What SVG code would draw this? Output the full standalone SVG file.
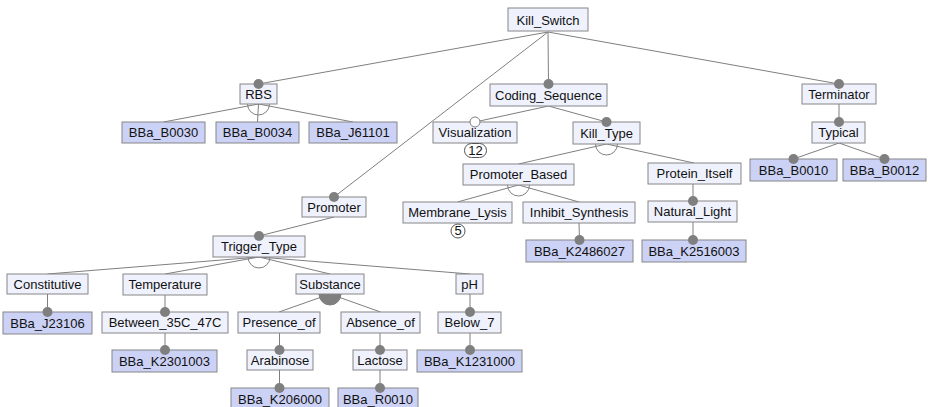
<svg xmlns="http://www.w3.org/2000/svg" width="928" height="407" viewBox="0 0 928 407">
<style>
.f{fill:#eff1fd;stroke:#868686;stroke-width:1}
.c{fill:#ccd1f6;stroke:#868686;stroke-width:1}
text{font-family:"Liberation Sans",Arial,sans-serif;font-size:13px;fill:#111;text-anchor:middle}
.l{stroke:#7f7f7f;stroke-width:1;fill:none}
.d{fill:#7f7f7f}
.o{fill:#fff;stroke:#7f7f7f;stroke-width:1}
.a{fill:none;stroke:#7f7f7f;stroke-width:1}
.r{fill:#7f7f7f;stroke:#7f7f7f;stroke-width:1}
.b{fill:#fff;stroke:#555;stroke-width:1}
</style>
<rect width="928" height="407" fill="#fff"/>
<g id="connectors">
<path class="l" d="M548 32L258.5 84M548 32L334 197M548 32L548.5 84M548 32L839 84"/>
<path class="l" d="M258.5 104L163.5 122M258.5 104L257.5 122M258.5 104L353 122"/>
<path class="a" d="M247.5 104A11 11 0 0 0 269.5 104"/>
<path class="l" d="M548.5 106L475 122M548.5 106L606.5 122"/>
<path class="l" d="M606.5 144L518.5 164M606.5 144L694 163"/>
<path class="a" d="M595.5 144A11 11 0 0 0 617.5 144"/>
<path class="l" d="M518.5 185L457.5 202M518.5 185L579 202"/>
<path class="a" d="M507.5 185A11 11 0 0 0 529.5 185"/>
<path class="l" d="M579 223L579.5 240M693 184L693 201M693 222L693 240M839 104L839 122M839 143L793.5 159M839 143L884.5 159"/>
<path class="l" d="M334 217L259 236"/>
<path class="l" d="M259 257L47.5 274M259 257L165 274M259 257L330 274M259 257L470 274"/>
<path class="a" d="M248 257A11 11 0 0 0 270 257"/>
<path class="l" d="M47.5 294L47.5 312M165 295L165 312M165 333L165 350"/>
<path class="l" d="M330 294L279 312M330 294L380.5 312"/>
<path class="r" d="M319 294A11 11 0 0 0 341 294Z"/>
<path class="l" d="M279.5 333L279.5 350M279.5 370L279.5 388M380 333L380 350M380 370L380 388M470 294L470 312M470 333L470 350"/>
</g>
<g id="Kill_Switch"><rect class="f" x="508" y="8" width="80" height="23"/><text x="548" y="24.5">Kill_Switch</text></g>
<g id="RBS"><rect class="f" x="240" y="84" width="37" height="20"/><text x="258.5" y="98.5">RBS</text><circle class="d" cx="258.5" cy="84" r="5"/></g>
<g id="BBa_B0030"><rect class="c" x="122" y="122" width="83" height="21"/><text x="163.5" y="137">BBa_B0030</text></g>
<g id="BBa_B0034"><rect class="c" x="216" y="122" width="83" height="21"/><text x="257.5" y="137">BBa_B0034</text></g>
<g id="BBa_J61101"><rect class="c" x="309" y="122" width="88" height="21"/><text x="353" y="137">BBa_J61101</text></g>
<g id="Coding_Sequence"><rect class="f" x="490" y="84" width="117" height="22"/><text x="548.5" y="99.5">Coding_Sequence</text><circle class="d" cx="548.5" cy="84" r="5"/></g>
<g id="Visualization"><rect class="f" x="433" y="122" width="84" height="21"/><text x="475" y="137">Visualization</text><circle class="o" cx="475" cy="122" r="5"/><rect class="b" x="464.5" y="143.5" width="22" height="14" rx="7"/><text x="475.5" y="155" font-size="11">12</text></g>
<g id="Kill_Type"><rect class="f" x="573" y="122" width="67" height="22"/><text x="606.5" y="137.5">Kill_Type</text><circle class="d" cx="606.5" cy="122" r="5"/></g>
<g id="Promoter_Based"><rect class="f" x="463" y="164" width="111" height="21"/><text x="518.5" y="179">Promoter_Based</text></g>
<g id="Protein_Itself"><rect class="f" x="648" y="163" width="93" height="21"/><text x="694.5" y="178">Protein_Itself</text></g>
<g id="Membrane_Lysis"><rect class="f" x="403" y="202" width="109" height="21"/><text x="457.5" y="217">Membrane_Lysis</text><circle class="b" cx="458" cy="231" r="7"/><text x="458" y="235" font-size="11">5</text></g>
<g id="Inhibit_Synthesis"><rect class="f" x="523" y="202" width="112" height="21"/><text x="579" y="217">Inhibit_Synthesis</text></g>
<g id="BBa_K2486027"><rect class="c" x="526" y="240" width="107" height="22"/><text x="579.5" y="255.5">BBa_K2486027</text><circle class="d" cx="579.5" cy="240" r="5"/></g>
<g id="Natural_Light"><rect class="f" x="648" y="201" width="89" height="21"/><text x="692.5" y="216">Natural_Light</text><circle class="d" cx="693" cy="201" r="5"/></g>
<g id="BBa_K2516003"><rect class="c" x="642" y="240" width="104" height="22"/><text x="694" y="255.5">BBa_K2516003</text><circle class="d" cx="693" cy="240" r="5"/></g>
<g id="Terminator"><rect class="f" x="802" y="84" width="74" height="20"/><text x="839" y="98.5">Terminator</text><circle class="d" cx="839" cy="84" r="5"/></g>
<g id="Typical"><rect class="f" x="812" y="122" width="53" height="21"/><text x="838.5" y="137">Typical</text><circle class="d" cx="839" cy="122" r="5"/></g>
<g id="BBa_B0010"><rect class="c" x="750" y="159" width="87" height="22"/><text x="793.5" y="174.5">BBa_B0010</text><circle class="d" cx="793.5" cy="159" r="5"/></g>
<g id="BBa_B0012"><rect class="c" x="843" y="159" width="83" height="22"/><text x="884.5" y="174.5">BBa_B0012</text><circle class="d" cx="884.5" cy="159" r="5"/></g>
<g id="Promoter"><rect class="f" x="302" y="197" width="64" height="20"/><text x="334" y="211.5">Promoter</text><circle class="d" cx="334" cy="197" r="5"/></g>
<g id="Trigger_Type"><rect class="f" x="213" y="236" width="92" height="21"/><text x="259" y="251">Trigger_Type</text><circle class="d" cx="259" cy="236" r="5"/></g>
<g id="Constitutive"><rect class="f" x="7" y="274" width="81" height="20"/><text x="47.5" y="288.5">Constitutive</text></g>
<g id="Temperature"><rect class="f" x="123" y="274" width="84" height="21"/><text x="165" y="289">Temperature</text></g>
<g id="Substance"><rect class="f" x="296" y="274" width="68" height="20"/><text x="330" y="288.5">Substance</text></g>
<g id="pH"><rect class="f" x="456" y="274" width="27" height="20"/><text x="469.5" y="288.5">pH</text></g>
<g id="BBa_J23106"><rect class="c" x="3" y="312" width="89" height="22"/><text x="47.5" y="327.5">BBa_J23106</text><circle class="d" cx="47.5" cy="312" r="5"/></g>
<g id="Between_35C_47C"><rect class="f" x="102" y="312" width="126" height="21"/><text x="165" y="327">Between_35C_47C</text><circle class="d" cx="165" cy="312" r="5"/></g>
<g id="BBa_K2301003"><rect class="c" x="112" y="350" width="105" height="22"/><text x="164.5" y="365.5">BBa_K2301003</text><circle class="d" cx="165" cy="350" r="5"/></g>
<g id="Presence_of"><rect class="f" x="238" y="312" width="82" height="21"/><text x="279" y="327">Presence_of</text></g>
<g id="Absence_of"><rect class="f" x="341" y="312" width="79" height="21"/><text x="380.5" y="327">Absence_of</text></g>
<g id="Below_7"><rect class="f" x="438" y="312" width="63" height="21"/><text x="469.5" y="327">Below_7</text><circle class="d" cx="470" cy="312" r="5"/></g>
<g id="Arabinose"><rect class="f" x="247" y="350" width="66" height="20"/><text x="280" y="364.5">Arabinose</text><circle class="d" cx="279.5" cy="350" r="5"/></g>
<g id="Lactose"><rect class="f" x="353" y="350" width="54" height="20"/><text x="380" y="364.5">Lactose</text><circle class="d" cx="380" cy="350" r="5"/></g>
<g id="BBa_K1231000"><rect class="c" x="417" y="350" width="105" height="22"/><text x="469.5" y="365.5">BBa_K1231000</text><circle class="d" cx="470" cy="350" r="5"/></g>
<g id="BBa_K206000"><rect class="c" x="231" y="388" width="98" height="22"/><text x="280" y="403.5">BBa_K206000</text><circle class="d" cx="279.5" cy="388" r="5"/></g>
<g id="BBa_R0010"><rect class="c" x="338" y="388" width="80" height="22"/><text x="378" y="403.5">BBa_R0010</text><circle class="d" cx="380" cy="388" r="5"/></g>
</svg>
